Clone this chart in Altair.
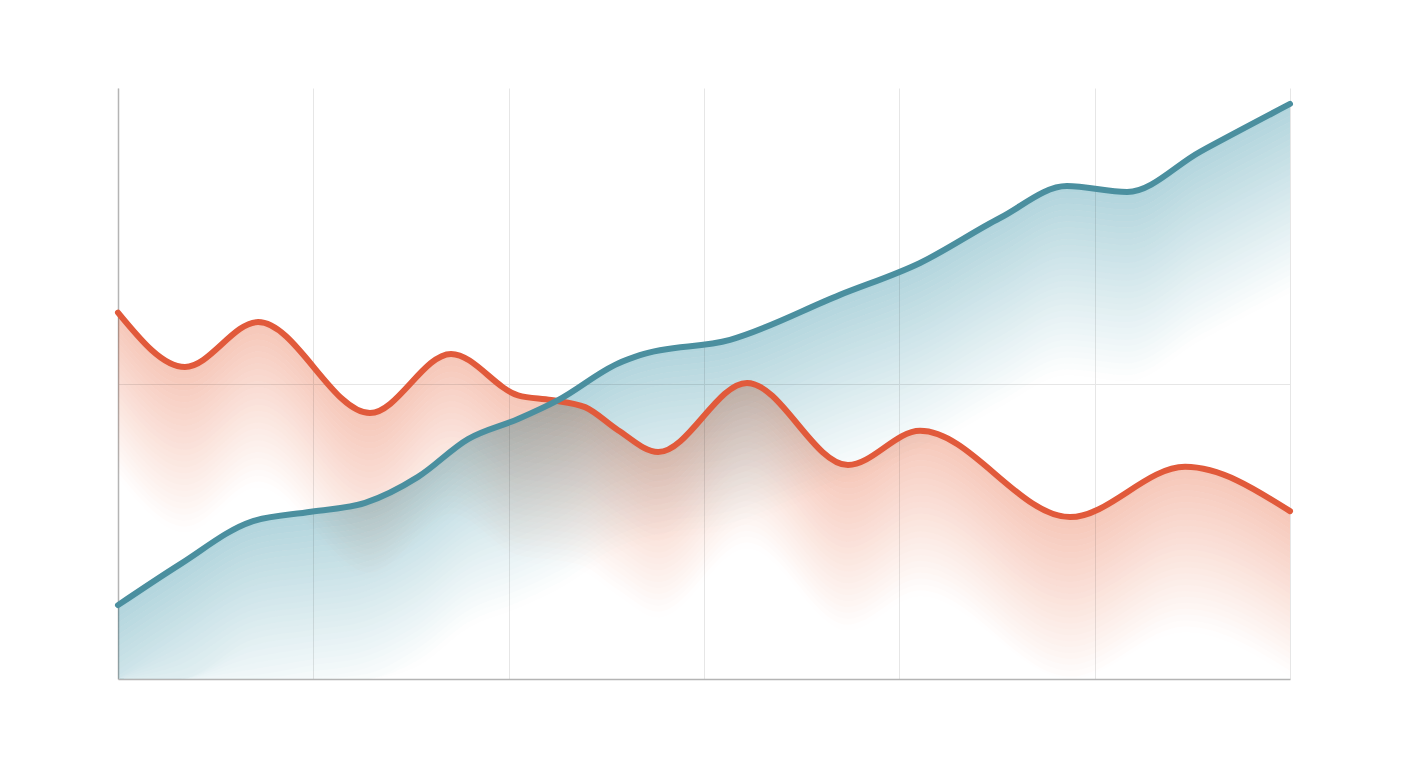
import altair as alt
import pandas as pd

# series (x: 0-60, y: 0-100)
teal_x = [0, 3.17, 6.81, 9.88, 12.65, 15.36, 17.92, 20.48, 22.53, 25.6, 26.72, 31.33, 36.96, 41.06, 45.15, 48.58, 51.66, 55.39, 60]
teal_y = [12.5, 19.4, 26.6, 28.3, 29.8, 34.2, 40.6, 44.0, 47.2, 53.4, 54.8, 57.4, 65.0, 70.4, 78.0, 83.4, 82.4, 89.2, 97.3]

red_x = [0, 3.43, 7.17, 12.9, 17.05, 20.48, 22.17, 23.91, 25.6, 27.65, 32.2, 37.37, 41.06, 48.74, 54.63, 60]
red_y = [62.0, 52.8, 60.4, 45.0, 55.0, 48.0, 47.2, 46.0, 42.1, 38.4, 50.1, 36.2, 42.0, 27.4, 35.9, 28.4]

x_ticks = [0, 10, 20, 30, 40, 50, 60]
y_ticks = [50]

teal = pd.DataFrame({'x': teal_x, 'y': teal_y})
red = pd.DataFrame({'x': red_x, 'y': red_y})

x_scale = alt.Scale(domain=[0, 60], nice=False)
y_scale = alt.Scale(domain=[0, 100], nice=False)
x_enc = alt.X('x:Q', scale=x_scale,
              axis=alt.Axis(values=x_ticks, labels=False, ticks=False, title=None))


def y_enc(field):
    return alt.Y(field, scale=y_scale,
                 axis=alt.Axis(values=y_ticks, labels=False, ticks=False, title=None))


# fill that fades out below the line: thin strips, each a bit lighter,
# multiplied onto what is under them so grid and the other fill show through
def fade(df, rgb, depth):
    strips = []
    for k in range(depth):
        t = (k + 0.5) / depth
        col = '#%02x%02x%02x' % tuple(round(c + (255 - c) * t) for c in rgb)
        strips.append(
            alt.Chart(df).transform_calculate(
                top=f'max(0, datum.y - {k})', bot=f'max(0, datum.y - {k + 1})'
            ).mark_area(interpolate='monotone', color=col, blend='multiply')
            .encode(x=x_enc, y=y_enc('top:Q'), y2='bot:Q')
        )
    return strips


red_fill = fade(red, (246, 198, 183), 28)
teal_fill = fade(teal, (176, 212, 220), 32)

red_line = alt.Chart(red).mark_line(
    interpolate='monotone', color='#e15a3b', strokeWidth=6, strokeCap='round'
).encode(x=x_enc, y=y_enc('y:Q'))

teal_line = alt.Chart(teal).mark_line(
    interpolate='monotone', color='#4b8f9f', strokeWidth=6, strokeCap='round'
).encode(x=x_enc, y=y_enc('y:Q'))

chart = alt.layer(*red_fill, *teal_fill, red_line, teal_line).properties(
    width=1172, height=591,
    autosize=alt.AutoSizeParams(type='none'),
    padding={'left': 110, 'top': 80, 'right': 10, 'bottom': 10},
    background='white',
).configure_view(stroke=None).configure_axis(
    domainColor='#b4b4b4', domainWidth=1.5,
    gridColor='#e6e6e6', gridWidth=1,
)

chart.save("out.html", embed_options={"renderer": "svg", "actions": False})
